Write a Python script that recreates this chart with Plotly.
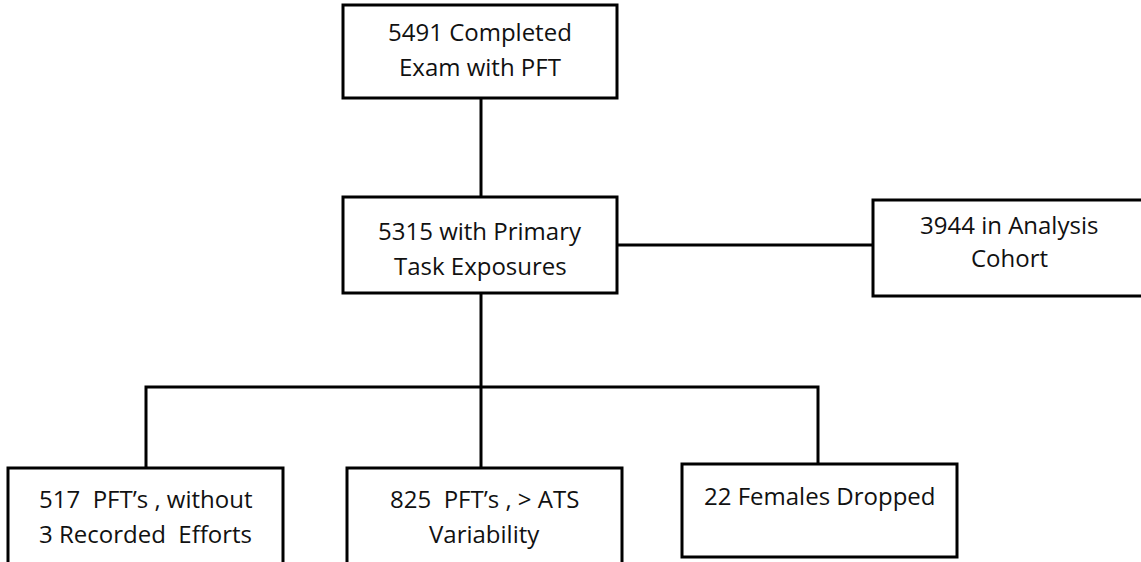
import plotly.graph_objects as go

# ---- data: text of each box (one list per line) ----
box_ids = ["completed", "primary", "cohort", "no3", "ats", "females"]
line1 = ["5491 Completed", "5315 with Primary", "3944 in Analysis",
         "517\u00a0 PFT’s , without", "825\u00a0 PFT’s , > ATS", "22 Females Dropped"]
line2 = ["Exam with PFT", "Task Exposures", "Cohort",
         "3 Recorded\u00a0 Efforts", "Variability", ""]

# ---- layout (pixel geometry, y downward) ----
boxes = {
    "completed": (343, 617, 5, 98),
    "primary":   (343, 617, 197, 293),
    "cohort":    (873, 1146, 200, 296),
    "no3":       (8, 283, 468, 566),
    "ats":       (347, 622, 468, 566),
    "females":   (682, 957, 464, 557),
}
text_y = {
    "completed": (31, 66),
    "primary":   (230, 265),
    "cohort":    (224, 257),
    "no3":       (498, 533),
    "ats":       (498, 533),
    "females":   (495, 530),
}
connectors = [
    [(481, 98), (481, 197)],
    [(617, 245), (873, 245)],
    [(481, 293), (481, 468)],
    [(146, 468), (146, 387), (818, 387), (818, 464)],
]

fig = go.Figure()

for xs in connectors:
    fig.add_trace(go.Scatter(
        x=[p[0] for p in xs], y=[p[1] for p in xs], mode="lines",
        line=dict(color="black", width=3), hoverinfo="skip", showlegend=False))

for bid in box_ids:
    x0, x1, y0, y1 = boxes[bid]
    fig.add_shape(type="rect", xref="x", yref="y", x0=x0, x1=x1, y0=y0, y1=y1,
                  line=dict(color="black", width=3), fillcolor="white", layer="above")

font = dict(family="Open Sans, sans-serif", size=24, color="#111111")
for i, bid in enumerate(box_ids):
    x0, x1, y0, y1 = boxes[bid]
    cx = (x0 + x1) / 2
    if bid == "cohort":
        cx = 1009
    for txt, ty in zip((line1[i], line2[i]), text_y[bid]):
        if txt:
            fig.add_annotation(x=cx, y=ty, xref="x", yref="y", text=txt,
                               showarrow=False, font=font,
                               xanchor="center", yanchor="middle")

fig.update_xaxes(range=[0, 1141], visible=False, fixedrange=True)
fig.update_yaxes(range=[562, 0], visible=False, fixedrange=True)
fig.update_layout(width=1141, height=562, margin=dict(l=0, r=0, t=0, b=0),
                  plot_bgcolor="white", paper_bgcolor="white", showlegend=False)

fig.write_html("out.html", config={"displayModeBar": False},
               post_script="document.body.style.margin='0';document.body.style.overflow='hidden';")
